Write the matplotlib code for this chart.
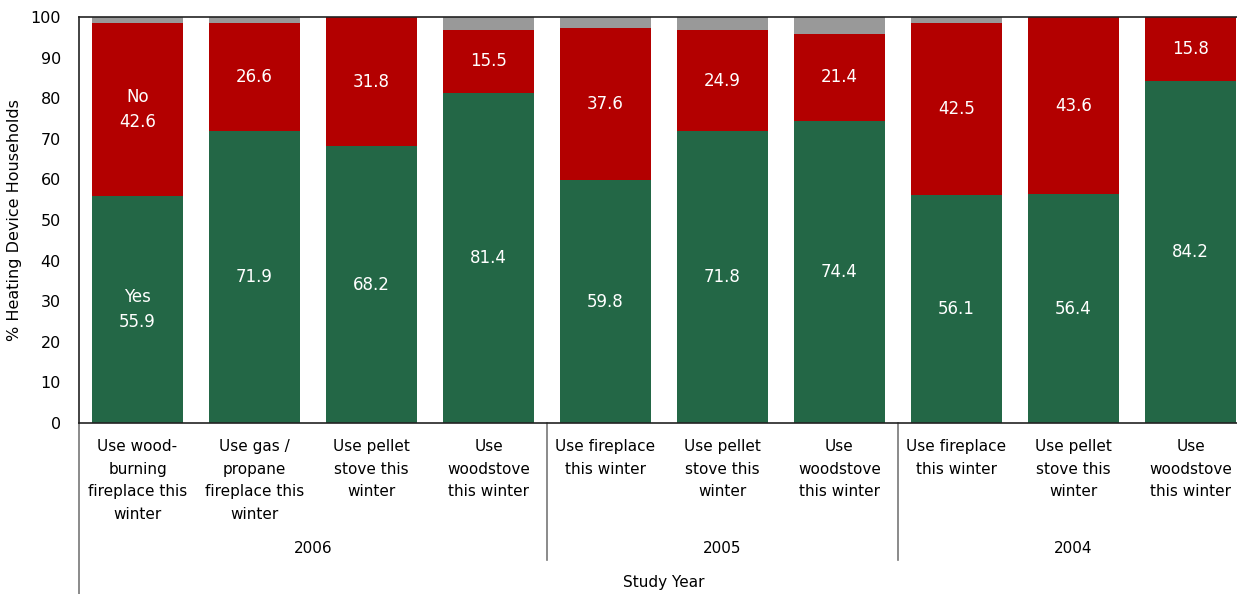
import matplotlib.pyplot as plt
import numpy as np

# heating device use by study year
categories = ["Use wood-\nburning\nfireplace this\nwinter",
              "Use gas /\npropane\nfireplace this\nwinter",
              "Use pellet\nstove this\nwinter",
              "Use\nwoodstove\nthis winter",
              "Use fireplace\nthis winter",
              "Use pellet\nstove this\nwinter",
              "Use\nwoodstove\nthis winter",
              "Use fireplace\nthis winter",
              "Use pellet\nstove this\nwinter",
              "Use\nwoodstove\nthis winter"]
years = ["2006", "2005", "2004"]
group_sizes = [4, 3, 3]
yes = [55.9, 71.9, 68.2, 81.4, 59.8, 71.8, 74.4, 56.1, 56.4, 84.2]
no = [42.6, 26.6, 31.8, 15.5, 37.6, 24.9, 21.4, 42.5, 43.6, 15.8]

green = "#236746"
red = "#b30000"
grey = "#999999"

yes = np.array(yes)
no = np.array(no)
rest = 100 - yes - no
x = np.arange(len(categories))
w = 0.78

fig = plt.figure(figsize=(12.37, 5.94), dpi=100)
ax = fig.add_axes([79 / 1237, 1 - 423 / 594, (1237 - 79) / 1237, 406 / 594])

ax.bar(x, yes, w, color=green)
ax.bar(x, no, w, bottom=yes, color=red)
ax.bar(x, rest, w, bottom=yes + no, color=grey)

for i in range(len(x)):
    ylab = "%.1f" % yes[i]
    nlab = "%.1f" % no[i]
    if i == 0:
        ylab = "Yes\n" + ylab
        nlab = "No\n" + nlab
    ax.text(x[i], yes[i] / 2, ylab, ha="center", va="center", color="white",
            fontsize=12, linespacing=1.45)
    ax.text(x[i], yes[i] + no[i] / 2, nlab, ha="center", va="center", color="white",
            fontsize=12, linespacing=1.45)

ax.set_xlim(-0.5, (1237 - 79) / 117 - 0.5)
ax.set_ylim(0, 100)
ax.set_yticks(np.arange(0, 101, 10))
ax.tick_params(axis="y", length=0, labelsize=11.5, pad=13)
ax.set_xticks([])
ax.spines["right"].set_visible(False)
for s in ["left", "bottom", "top"]:
    ax.spines[s].set_color("#222222")
    ax.spines[s].set_linewidth(1.2)
ax.set_ylabel("% Heating Device Households", fontsize=11.5, labelpad=6)

# category labels and grouping below the axis
tr = ax.get_xaxis_transform()
for i, c in enumerate(categories):
    ax.text(x[i], -0.04, c, transform=tr, ha="center", va="top",
            fontsize=11, linespacing=1.62)

start = 0
for yr, n in zip(years, group_sizes):
    ax.text(start + (n - 1) / 2, -0.308, yr, transform=tr, ha="center", va="center", fontsize=11)
    if start > 0:
        ax.plot([start - 0.5, start - 0.5], [0, -0.337], transform=tr, color="#777777",
                lw=1.2, clip_on=False)
    start += n
ax.plot([-0.5, -0.5], [0, -0.45], transform=tr, color="#777777", lw=1.2, clip_on=False)
ax.text(4.5, -0.393, "Study Year", transform=tr, ha="center", va="center", fontsize=11)

fig.savefig("out.png", dpi=100)
